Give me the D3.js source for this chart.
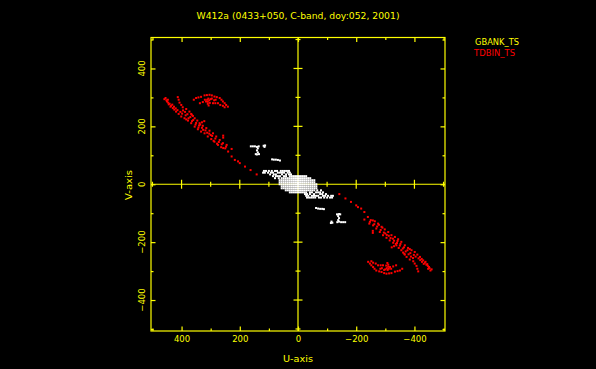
<!DOCTYPE html>
<html><head><meta charset="utf-8">
<script src="https://cdn.jsdelivr.net/npm/d3@7/dist/d3.min.js"></script>
<style>html,body{margin:0;padding:0;background:#000;}svg{display:block;}</style>
</head><body>
<script>
const title = "W412a (0433+050, C-band, doy:052, 2001)";
const seriesNames = ["GBANK_TS", "TDBIN_TS"];
const xTitle = "U-axis", yTitle = "V-axis";
const majorTicks = [-400, -200, 0, 200, 400];
const minorTicks = [-500, -300, -100, 100, 300, 500];

// TDBIN_TS (u, v) samples (one half-plane; conjugates are also plotted)
const tdbinTrack1 = [[459,294],[455,298],[452,290],[450,286],[447,292],[446,282],[444,276],[441,278],[438,268],[436,271],[430,263],[425,258],[419,251],[410,243],[401,234],[390,228],[384,224],[378,220],[367,211],[355,199],[344,190],[333,182],[321,176],[310,165],[298,156],[287,147],[275,136],[264,128],[257,125],[240,113],[228,122],[228,96],[217,84],[206,79],[200,73],[182,61],[163,49],[142,34]];
const tdbinTrack2 = [[413,301],[410,292],[407,282],[401,274],[396,266],[384,260],[373,251],[367,243],[361,236],[355,228],[346,220],[338,211],[327,202],[315,194],[304,185],[292,176],[281,165],[269,153],[258,142],[247,130]];
const tdbinTrack3 = [[395,255],[388,250],[380,242],[370,232],[365,240],[360,222],[350,212],[340,203],[330,214],[322,218],[330,195],[318,186],[305,175],[295,167],[284,158],[272,146],[262,138],[257,168],[257,161],[245,136],[250,124],
  [432,275],[426,268],[420,262],[414,256],[404,250],[398,244],[386,238],[376,228],[364,218],[352,206],[342,196],[336,206],[326,188],[312,178],[300,170],[290,150],[278,140]];
const tdbinArc = [[358,292],[350,298],[342,300],[333,302],[321,307],[313,308],[304,309],[296,307],[287,303],[279,301],[269,298],[263,292],[258,286],[252,280],[247,274],[241,268],
  [337,280],[327,284],[316,286],[310,285],[303,281],[292,280],[284,280],[275,280],[267,274],[258,271],[252,266],
  [320,292],[312,292],[305,290],[300,294],[308,296],[296,296],[288,290],[283,292],[310,278],[307,272]];

// GBANK_TS (u, v) samples (one half-plane; conjugates are also plotted)
const gbankBlob = [
  [31,46],[38,46],[45,46],[52,46],[59,46],[72,46],[79,46],[90,46],[100,46],[110,46],[117,46],
  [28,40],[35,40],[48,40],[55,40],[62,40],[69,40],[86,40],[93,40],[103,40],[114,40],[120,40],
  [24,34],[31,34],[41,34],[55,34],[76,34],[83,34],[96,34],
  [-28,28],[-21,28],[-14,28],[-7,28],[0,28],[7,28],[14,28],[21,28],[28,28],[41,28],[48,28],[62,28],[69,28],[76,28],[86,28],
  [-42,21],[-35,21],[-28,21],[-21,21],[-14,21],[-7,21],[0,21],[7,21],[14,21],[21,21],[28,21],[35,21],[42,21],[49,21],[56,21],[66,21],[79,21],
  [-56,14],[-49,14],[-42,14],[-35,14],[-28,14],[-21,14],[-14,14],[-7,14],[0,14],[7,14],[14,14],[21,14],[28,14],[35,14],[42,14],[49,14],[56,14],[63,14],
  [-56,7],[-49,7],[-42,7],[-35,7],[-28,7],[-21,7],[-14,7],[-7,7],[0,7],[7,7],[14,7],[21,7],[28,7],[35,7],[42,7],[49,7],[56,7],[63,7],
  [0,0],[7,0],[14,0],[21,0],[28,0],[35,0],[42,0],[49,0],[56,0],[63,0]];
const gbankClusters = [[162,131],[155,131],[148,131],[141,129],[135,131],[138,124],[141,117],[138,110],[134,104],[145,104],[141,103],
  [118,133],[113,134],[115,129],
  [89,86],[83,85],[76,85],[69,84],[62,82]];

const W = 596, H = 369;
const yellow = "#ffff00", red = "#ff0000", white = "#ffffff";
const font = "DejaVu Sans";

const svg = d3.select("body").append("svg").attr("width", W).attr("height", H)
  .style("background", "#000");
svg.append("rect").attr("width", W).attr("height", H).attr("fill", "#000");

const x = d3.scaleLinear().domain([505, -505]).range([151, 445]);
const y = d3.scaleLinear().domain([-507, 507]).range([331, 37.5]);

function withConjugates(arr) { return arr.concat(arr.map(([u, v]) => [-u, -v])); }

const series = [
  { name: seriesNames[1], color: red, pts: withConjugates([].concat(tdbinTrack1, tdbinTrack2, tdbinTrack3, tdbinArc)) },
  { name: seriesNames[0], color: white, pts: withConjugates([].concat(gbankBlob, gbankClusters)) }
];

// zero axes
svg.append("line").attr("x1", x.range()[0]).attr("x2", x.range()[1]).attr("y1", y(0)).attr("y2", y(0))
  .attr("stroke", yellow).attr("stroke-width", 1.2);
svg.append("line").attr("y1", y.range()[0]).attr("y2", y.range()[1]).attr("x1", x(0)).attr("x2", x(0))
  .attr("stroke", yellow).attr("stroke-width", 1.2);
const crossTicks = majorTicks.filter(d => d !== 0).map(d => ({ v: d, s: 4.5 }))
  .concat(minorTicks.map(d => ({ v: d, s: 2.5 })));
svg.append("g").selectAll("line").data(crossTicks).join("line")
  .attr("x1", d => x(d.v)).attr("x2", d => x(d.v)).attr("y1", d => y(0) - d.s).attr("y2", d => y(0) + d.s)
  .attr("stroke", yellow).attr("stroke-width", 1.2);
svg.append("g").selectAll("line").data(crossTicks).join("line")
  .attr("y1", d => y(d.v)).attr("y2", d => y(d.v)).attr("x1", d => x(0) - d.s).attr("x2", d => x(0) + d.s)
  .attr("stroke", yellow).attr("stroke-width", 1.2);

// points
series.forEach(s => {
  svg.append("g").selectAll("rect").data(s.pts).join("rect")
    .attr("x", d => x(d[0]) - 1).attr("y", d => y(d[1]) - 1)
    .attr("width", 2).attr("height", 2).attr("fill", s.color);
});

// frame
svg.append("rect").attr("x", x.range()[0]).attr("y", y.range()[1])
  .attr("width", x.range()[1] - x.range()[0]).attr("height", y.range()[0] - y.range()[1])
  .attr("fill", "none").attr("stroke", yellow).attr("stroke-width", 1.2);

function styleAxis(g) {
  g.select(".domain").remove();
  g.selectAll("line").attr("stroke", yellow).attr("stroke-width", 1.2);
  g.selectAll("text").attr("fill", yellow).attr("font-family", font).attr("font-size", 8.5);
}
const fmt = d3.format("d");
// bottom
svg.append("g").attr("transform", `translate(0,${y.range()[0]})`)
  .call(d3.axisBottom(x).tickValues(majorTicks).tickSize(-4.5).tickPadding(5).tickFormat(fmt)).call(styleAxis);
svg.append("g").attr("transform", `translate(0,${y.range()[0]})`)
  .call(d3.axisBottom(x).tickValues(minorTicks).tickSize(-2.5).tickFormat("")).call(styleAxis);
// top
svg.append("g").attr("transform", `translate(0,${y.range()[1]})`)
  .call(d3.axisTop(x).tickValues(majorTicks).tickSize(-4.5).tickFormat("")).call(styleAxis);
svg.append("g").attr("transform", `translate(0,${y.range()[1]})`)
  .call(d3.axisTop(x).tickValues(minorTicks).tickSize(-2.5).tickFormat("")).call(styleAxis);
// left
svg.append("g").attr("transform", `translate(${x.range()[0]},0)`)
  .call(d3.axisLeft(y).tickValues(majorTicks).tickSize(-4.5).tickFormat("")).call(styleAxis);
svg.append("g").attr("transform", `translate(${x.range()[0]},0)`)
  .call(d3.axisLeft(y).tickValues(minorTicks).tickSize(-2.5).tickFormat("")).call(styleAxis);
// right
svg.append("g").attr("transform", `translate(${x.range()[1]},0)`)
  .call(d3.axisRight(y).tickValues(majorTicks).tickSize(-4.5).tickFormat("")).call(styleAxis);
svg.append("g").attr("transform", `translate(${x.range()[1]},0)`)
  .call(d3.axisRight(y).tickValues(minorTicks).tickSize(-2.5).tickFormat("")).call(styleAxis);
// left rotated labels
svg.append("g").selectAll("text").data(majorTicks).join("text")
  .attr("transform", d => `translate(145,${y(d)}) rotate(-90)`)
  .attr("text-anchor", "middle").attr("fill", yellow)
  .attr("font-family", font).attr("font-size", 8.5).text(fmt);

// titles
svg.append("text").attr("x", 298).attr("y", 19).attr("text-anchor", "middle")
  .attr("fill", yellow).attr("font-family", font).attr("font-size", 9)
  .attr("textLength", 203).attr("lengthAdjust", "spacingAndGlyphs").text(title);
svg.append("text").attr("x", 298).attr("y", 362).attr("text-anchor", "middle")
  .attr("fill", yellow).attr("font-family", font).attr("font-size", 9)
  .attr("textLength", 30).attr("lengthAdjust", "spacingAndGlyphs").text(xTitle);
svg.append("text").attr("transform", "translate(131.5,185) rotate(-90)").attr("text-anchor", "middle")
  .attr("fill", yellow).attr("font-family", font).attr("font-size", 9)
  .attr("textLength", 30).attr("lengthAdjust", "spacingAndGlyphs").text(yTitle);

// legend
svg.append("text").attr("x", 475).attr("y", 45).attr("fill", yellow)
  .attr("font-family", font).attr("font-size", 9)
  .attr("textLength", 44).attr("lengthAdjust", "spacingAndGlyphs").text(seriesNames[0]);
svg.append("text").attr("x", 474).attr("y", 55.5).attr("fill", red)
  .attr("font-family", font).attr("font-size", 9)
  .attr("textLength", 41).attr("lengthAdjust", "spacingAndGlyphs").text(seriesNames[1]);
</script>
</body></html>
